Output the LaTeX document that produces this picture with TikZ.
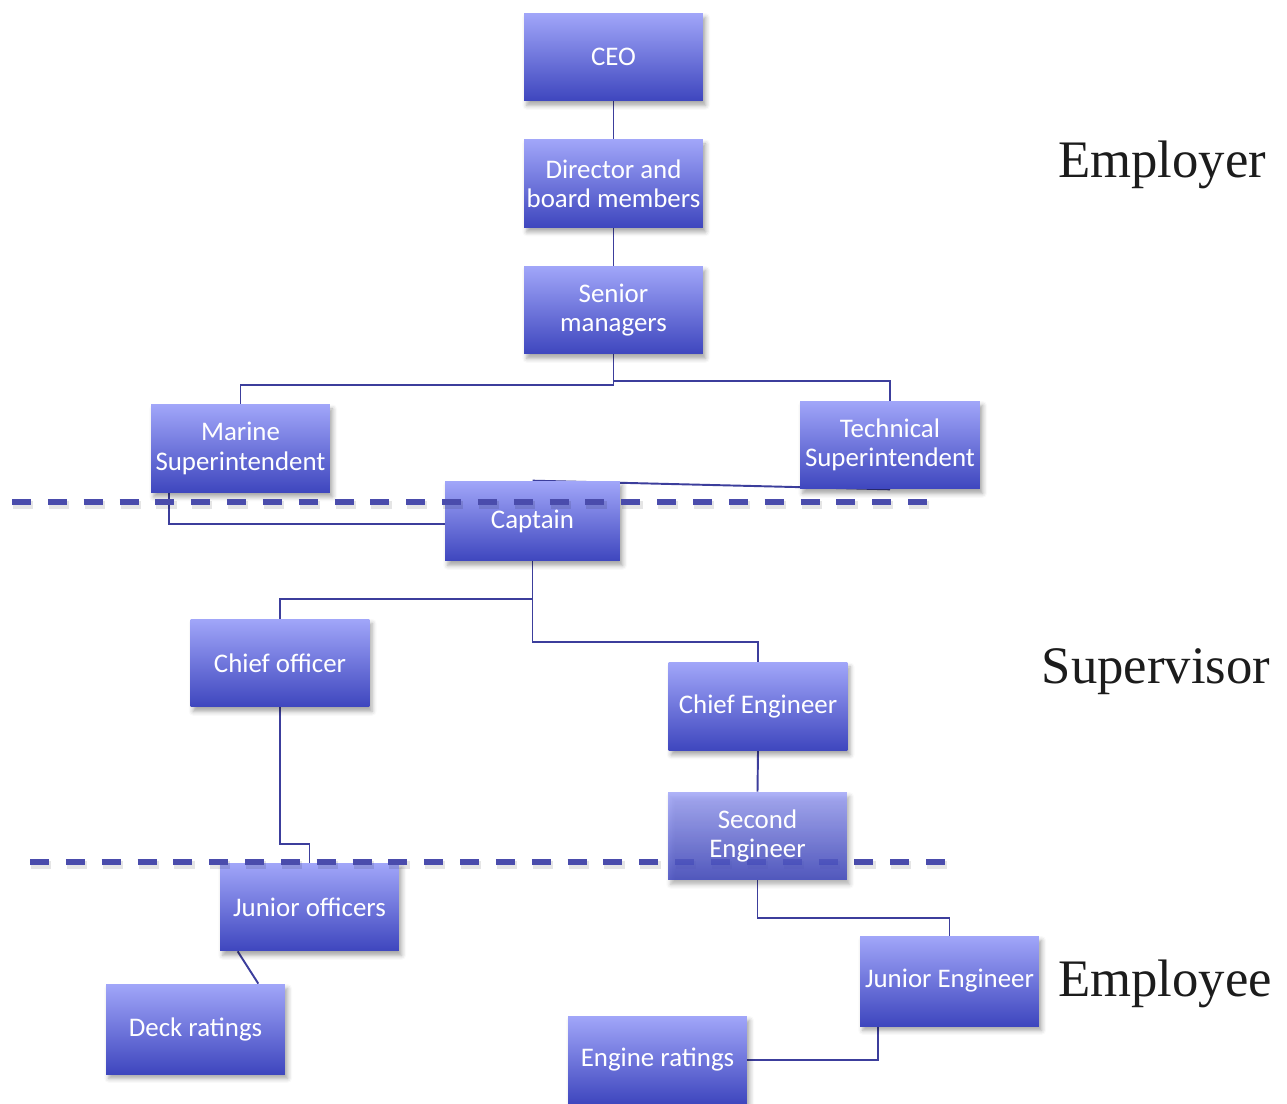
\documentclass[tikz,border=0pt]{standalone}
\usepackage{fontspec}
\newfontfamily\boxfont{Carlito}
\newfontfamily\tagfont{Liberation Serif}
\usetikzlibrary{shadows.blur,calc,backgrounds}
\definecolor{boxtop}{RGB}{161,166,249}
\definecolor{boxmid}{RGB}{143,149,238}
\definecolor{boxbot}{RGB}{62,70,190}
\definecolor{wire}{RGB}{60,62,156}
\definecolor{divider}{RGB}{74,76,172}
\definecolor{tagtext}{RGB}{28,28,28}

\begin{document}
\begin{tikzpicture}[x=0.02cm,y=-0.02cm,
  rolebox/.style={rectangle, inner sep=0pt, minimum width=3.58cm, minimum height=1.76cm,
    top color=boxtop, middle color=boxmid, bottom color=boxbot,
    text=white, align=center,
    font=\boxfont\fontsize{15.3}{16.6}\selectfont,
    blur shadow={shadow xshift=1.5pt, shadow yshift=-2.5pt, shadow blur radius=2.5pt, shadow opacity=35}},
  wire/.style={draw=wire, line width=1.1pt},
  divider/.style={draw=divider, line width=3.3pt, dash pattern=on 10.8pt off 9.6pt},
  dividershade/.style={draw=black, opacity=0.1, line width=4.5pt, dash pattern=on 11.5pt off 8.9pt},
  tag/.style={text=tagtext, font=\tagfont\fontsize{30}{34}\selectfont}]

\useasboundingbox (0,0) rectangle (1287,1104);

% ---- role boxes
\node[rolebox] (ceo) at (613.5,57) {CEO};
\node[rolebox] (director) at (613.5,183.5) {Director and\\board members};
\node[rolebox] (senior) at (613.5,310) {Senior\\managers};
\node[rolebox] (marine) at (240.5,448.5) {Marine\\Superintendent};
\node[rolebox, minimum width=3.6cm] (tech) at (890,445) {Technical\\Superintendent};
\node[rolebox, minimum width=3.5cm, minimum height=1.6cm] (captain) at (532.5,521) {Captain};
\node[rolebox] (chiefoff) at (280,663) {Chief officer};
\node[rolebox] (chiefeng) at (758,706.5) {Chief Engineer};
\node[rolebox] (junoff) at (309.5,907) {Junior officers};
\node[rolebox, minimum height=1.8cm] (deck) at (195.5,1029) {Deck ratings};
\node[rolebox, minimum height=1.8cm] (juneng) at (949.5,981) {Junior Engineer};
\node[rolebox] (engine) at (657.5,1060) {Engine ratings};

% ---- level dividers
\coordinate (upperL) at (12,502);
\coordinate (upperR) at (930,502);
\coordinate (lowerL) at (30,862);
\coordinate (lowerR) at (946,862);
\draw[dividershade] ($(upperL)+(1,3)$) -- ($(upperR)+(1,3)$);
\draw[divider] (upperL) -- (upperR);
\draw[dividershade] ($(lowerL)+(1,3)$) -- ($(lowerR)+(1,3)$);
\draw[divider] (lowerL) -- (lowerR);

% the second engineer box sits over the lower divider
\node[rolebox, fill opacity=0.84, text opacity=1] (second) at (757.5,836) {Second\\Engineer};

% ---- connectors, behind the boxes
\begin{pgfonlayer}{background}
\draw[wire] (ceo.south) -- (director.north);
\draw[wire] (director.south) -- (senior.north);
\draw[wire] (senior.south) -- ++(0,31) -| (marine.north);
\draw[wire] (senior.south) -- ++(0,27) -| (tech.north);
\draw[wire] (marine.south west) ++(18,0) |- ($(captain.west)+(0,3)$);
\draw[wire] (captain.north) -- (tech.south);
\draw[wire] (captain.south) -- ++(0,38) -| (chiefoff.north);
\draw[wire] (captain.south) -- ++(0,81) -| (chiefeng.north);
\draw[wire] (chiefeng.south) -- (second.north);
\draw[wire] (chiefoff.south) -- ++(0,137) -| (junoff.north);
\draw[wire] (second.south) -- ++(0,38) -| (juneng.north);
\draw[wire] ($(junoff.south west)+(18,0)$) -- ($(deck.north east)+(-27,0)$);
\draw[wire] (juneng.south west) ++(18,0) |- (engine.east);
\end{pgfonlayer}

% ---- level names
\node[tag] (employer) at (1162,165) {Employer};
\node[tag] (supervisor) at (1156,672) {Supervisor};
\node[tag] (employee) at (1165,984) {Employee};
\end{tikzpicture}
\end{document}
